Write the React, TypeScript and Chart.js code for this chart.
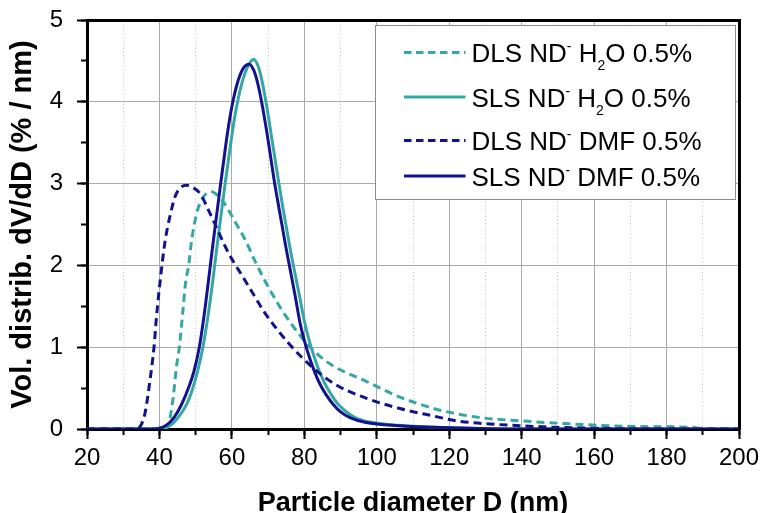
import { useEffect, useRef } from 'react';
import { Chart, registerables } from 'chart.js';

Chart.register(...registerables);

// ---------- data ----------
const X_TICK_LABEL_STEP = 20;
const X_MINOR_STEP = 10;
const X_MIN = 20;
const X_MAX = 200;
const Y_MIN = 0;
const Y_MAX = 5;

const X_TITLE = 'Particle diameter D (nm)';
const Y_TITLE = 'Vol. distrib. dV/dD (% / nm)';

const SERIES_LABELS = [
  'DLS ND⁻ H₂O 0.5%',
  'SLS ND⁻ H₂O 0.5%',
  'DLS ND⁻ DMF 0.5%',
  'SLS ND⁻ DMF 0.5%',
];

// legend rich text: [text, 'sup' | 'sub' | '']
const LEGEND_PARTS: [string, string][][] = [
  [['DLS ND', ''], ['-', 'sup'], [' H', ''], ['2', 'sub'], ['O 0.5%', '']],
  [['SLS ND', ''], ['-', 'sup'], [' H', ''], ['2', 'sub'], ['O 0.5%', '']],
  [['DLS ND', ''], ['-', 'sup'], [' DMF 0.5%', '']],
  [['SLS ND', ''], ['-', 'sup'], [' DMF 0.5%', '']],
];

// DLS ND- H2O 0.5% (teal dashed)
const dlsH2oD = [20, 41.5, 42.5, 43.8, 44.7, 45.5, 46.4, 47.3, 48, 48.9, 50.3, 51.6, 53, 54.4, 56, 57.6, 61.3, 63.6, 66.4, 70, 73.3, 76.5, 80.6, 84, 88, 97.2, 106.4, 117.5, 128.5, 139.5, 150.6, 161.6, 172.7, 187, 190];
const dlsH2oV = [0, 0, 0.05, 0.39, 0.76, 1.0, 1.41, 1.82, 1.98, 2.31, 2.64, 2.8, 2.88, 2.9, 2.86, 2.78, 2.5, 2.32, 2.05, 1.74, 1.49, 1.28, 1.05, 0.9, 0.77, 0.58, 0.39, 0.23, 0.14, 0.1, 0.07, 0.045, 0.03, 0.02, 0.0];

// SLS ND- H2O 0.5% (teal solid)
const slsH2oD = [20, 40, 41.5, 43.5, 45.5, 47.5, 49, 50.5, 52, 53.4, 54.7, 55.8, 56.9, 58.2, 59.7, 60.8, 61.8, 63.1, 64.6, 66, 67.2, 68.2, 69.4, 71.1, 72.8, 74.1, 75.1, 76.1, 77.2, 78.7, 80, 81.4, 82.8, 84.2, 85.6, 87.3, 89.2, 91.3, 94, 98, 106, 120, 140, 200];
const slsH2oV = [0, 0, 0.01, 0.06, 0.16, 0.3, 0.47, 0.7, 1.0, 1.38, 1.8, 2.2, 2.58, 3.02, 3.5, 3.82, 4.05, 4.28, 4.45, 4.52, 4.44, 4.28, 4.0, 3.53, 3.05, 2.7, 2.45, 2.2, 1.95, 1.62, 1.32, 1.07, 0.87, 0.7, 0.56, 0.43, 0.31, 0.22, 0.14, 0.085, 0.045, 0.015, 0, 0];

// DLS ND- DMF 0.5% (navy dashed)
const dlsDmfD = [20, 33.5, 34.5, 36, 37.4, 38.5, 39.2, 40.3, 41.5, 42.9, 44.3, 45.8, 47.5, 49.3, 51.2, 53.5, 55.8, 58.5, 60.9, 62.2, 65.9, 69.1, 71.9, 79.2, 88, 97.2, 106.4, 115.5, 122, 128.5, 139.5, 150, 160, 175, 200];
const dlsDmfV = [0, 0, 0.02, 0.19, 0.6, 1.0, 1.38, 1.85, 2.28, 2.6, 2.84, 2.95, 2.98, 2.95, 2.88, 2.68, 2.46, 2.2, 2.01, 1.92, 1.65, 1.42, 1.25, 0.88, 0.56, 0.375, 0.25, 0.16, 0.1, 0.07, 0.04, 0.02, 0.01, 0, 0];

// SLS ND- DMF 0.5% (navy solid)
const slsDmfD = [20, 38, 40, 42, 44, 46, 48, 49.5, 51, 52.3, 53.5, 54.6, 55.6, 56.9, 58.4, 59.5, 60.5, 61.8, 63.3, 64.8, 66, 67, 68.2, 70, 71.6, 73, 74, 75, 76, 77.5, 78.8, 80.2, 81.6, 83, 84.3, 86, 88, 90, 92.6, 97, 106, 120, 140, 200];
const slsDmfV = [0, 0, 0.01, 0.05, 0.14, 0.29, 0.5, 0.7, 1.0, 1.38, 1.8, 2.2, 2.55, 3.0, 3.5, 3.82, 4.05, 4.27, 4.42, 4.46, 4.39, 4.25, 4.0, 3.53, 3.06, 2.7, 2.45, 2.2, 1.97, 1.62, 1.3, 1.05, 0.85, 0.68, 0.55, 0.42, 0.3, 0.21, 0.14, 0.08, 0.04, 0.015, 0, 0];

const TEAL = '#34a7a3';
const NAVY = '#12128e';

const toPoints = (xs: number[], ys: number[]) => xs.map((x, i) => ({ x, y: ys[i] }));

const FONT = '"Liberation Sans", Arial, Helvetica, sans-serif';

const insetLegend = {
  id: 'insetLegend',
  afterDraw(chart: any) {
    const { ctx, chartArea } = chart;
    const bx = chartArea.left + 288.5;
    const by = chartArea.top + 5.5;
    const bw = 360;
    const bh = 174;
    ctx.save();
    ctx.fillStyle = '#ffffff';
    ctx.fillRect(bx, by, bw, bh);
    ctx.strokeStyle = '#8c8c8c';
    ctx.lineWidth = 1;
    ctx.strokeRect(bx, by, bw, bh);
    const lineYs = [27, 71.5, 115, 150.5];
    chart.data.datasets.forEach((ds: any, i: number) => {
      const ly = by + lineYs[i];
      ctx.beginPath();
      ctx.strokeStyle = ds.borderColor;
      ctx.lineWidth = 3;
      ctx.setLineDash(ds.borderDash && ds.borderDash.length ? [7.5, 4.5] : []);
      ctx.moveTo(bx + 28.5, ly);
      ctx.lineTo(bx + 90, ly);
      ctx.stroke();
      ctx.setLineDash([]);
      let x = bx + 96;
      const base = ly + 9.5;
      ctx.fillStyle = '#000';
      ctx.textBaseline = 'alphabetic';
      ctx.textAlign = 'left';
      for (const [text, kind] of LEGEND_PARTS[i]) {
        const size = kind ? 14 : 26;
        ctx.font = `${size}px ${FONT}`;
        const dy = kind === 'sup' ? -11 : kind === 'sub' ? 8 : 0;
        ctx.fillText(text, x, base + dy);
        x += ctx.measureText(text).width;
      }
    });
    ctx.restore();
  },
};

const noPad = (s: any) => {
  s.paddingTop = 0;
  s.paddingBottom = 0;
  s.paddingLeft = 0;
  s.paddingRight = 0;
};

export default function App() {
  const ref = useRef<HTMLCanvasElement | null>(null);

  useEffect(() => {
    document.body.style.margin = '0';
    if (!ref.current) return;
    Chart.defaults.font.family = FONT;
    Chart.defaults.color = '#000';

    const chart = new Chart(ref.current, {
      type: 'line',
      data: {
        datasets: [
          { label: SERIES_LABELS[0], data: toPoints(dlsH2oD, dlsH2oV), borderColor: TEAL, borderDash: [8, 5], order: 4 },
          { label: SERIES_LABELS[1], data: toPoints(slsH2oD, slsH2oV), borderColor: TEAL, borderDash: [], order: 3 },
          { label: SERIES_LABELS[2], data: toPoints(dlsDmfD, dlsDmfV), borderColor: NAVY, borderDash: [8, 5], order: 2 },
          { label: SERIES_LABELS[3], data: toPoints(slsDmfD, slsDmfV), borderColor: NAVY, borderDash: [], order: 1 },
        ].map((d) => ({
          ...d,
          borderWidth: 3,
          pointRadius: 0,
          fill: false,
          cubicInterpolationMode: 'monotone' as const,
        })),
      },
      options: {
        responsive: false,
        animation: false,
        events: [],
        layout: { padding: 0 },
        plugins: {
          legend: { display: false },
          tooltip: { enabled: false },
        },
        scales: {
          x: {
            type: 'linear',
            position: 'bottom',
            weight: 1,
            min: X_MIN,
            max: X_MAX,
            ticks: {
              stepSize: X_TICK_LABEL_STEP,
              autoSkip: false,
              maxRotation: 0,
              padding: 5,
              font: { size: 24 },
              color: '#000',
            },
            grid: {
              color: '#aaaaaa',
              lineWidth: 1,
              tickLength: 10,
              tickColor: '#000',
              tickWidth: 2,
            },
            border: { color: '#000', width: 3 },
            title: {
              display: true,
              text: X_TITLE,
              font: { size: 27, weight: 'bold', lineHeight: 0.72 },
              padding: 0,
              color: '#000',
            },
            afterFit: (s: any) => { s.height = 84; noPad(s); },
          },
          xMinor: {
            type: 'linear',
            position: 'bottom',
            weight: 0,
            min: X_MIN,
            max: X_MAX,
            ticks: { stepSize: X_MINOR_STEP, display: false, autoSkip: false },
            grid: {
              color: (c: any) => (c.tick && c.tick.value % X_TICK_LABEL_STEP === 0 ? 'rgba(0,0,0,0)' : '#c4c4c4'),
              lineWidth: 1,
              tickLength: 6,
              tickColor: '#000',
              tickWidth: 2,
            },
            border: { display: false, dash: [1, 2.5] },
            afterFit: (s: any) => { s.height = 0; noPad(s); },
          },
          xTop: {
            type: 'linear',
            position: 'top',
            min: X_MIN,
            max: X_MAX,
            ticks: { display: false },
            grid: { drawOnChartArea: false, drawTicks: false },
            border: { color: '#000', width: 3 },
            afterFit: (s: any) => { s.height = 20; noPad(s); },
          },
          y: {
            type: 'linear',
            position: 'left',
            weight: 1,
            min: Y_MIN,
            max: Y_MAX,
            ticks: {
              stepSize: 1,
              padding: 14,
              font: { size: 24 },
              color: '#000',
            },
            grid: {
              color: '#aaaaaa',
              lineWidth: 1,
              tickLength: 10,
              tickColor: '#000',
              tickWidth: 2,
            },
            border: { color: '#000', width: 3 },
            title: {
              display: true,
              text: Y_TITLE,
              font: { size: 29, weight: 'bold', lineHeight: 1 },
              padding: { top: 8, bottom: 0 },
              color: '#000',
            },
            afterFit: (s: any) => { s.width = 87; noPad(s); },
          },
          yMinor: {
            type: 'linear',
            position: 'left',
            weight: 0,
            min: Y_MIN,
            max: Y_MAX,
            ticks: { stepSize: 0.5, display: false },
            grid: {
              drawOnChartArea: false,
              tickLength: 6,
              tickColor: '#000',
              tickWidth: 2,
            },
            border: { display: false },
            afterFit: (s: any) => { s.width = 0; noPad(s); },
          },
          yRight: {
            type: 'linear',
            position: 'right',
            min: Y_MIN,
            max: Y_MAX,
            ticks: { display: false },
            grid: { drawOnChartArea: false, drawTicks: false },
            border: { color: '#000', width: 3 },
            afterFit: (s: any) => { s.width = 23; noPad(s); },
          },
        },
      } as any,
      plugins: [insetLegend],
    });

    return () => chart.destroy();
  }, []);

  return (
    <div style={{ width: 762, height: 513, background: '#fff' }}>
      <canvas ref={ref} width={762} height={513} />
    </div>
  );
}
